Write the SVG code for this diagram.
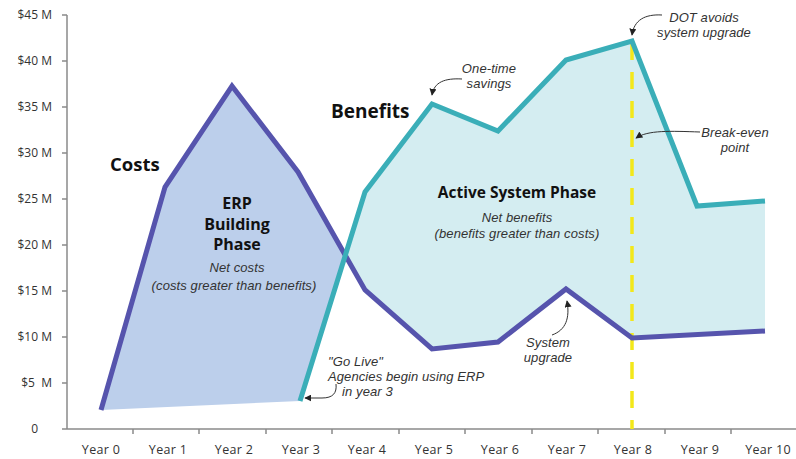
<svg xmlns="http://www.w3.org/2000/svg" width="796" height="459" viewBox="0 0 796 459">
<defs>
<style>
.ax{stroke:#8a8a8a;stroke-width:1.5;fill:none}
.yl{font-family:"Open Sans","Liberation Sans",sans-serif;font-size:12px;fill:#333;text-anchor:end;white-space:pre}
.xl{font-family:"Open Sans","Liberation Sans",sans-serif;font-size:12.5px;fill:#333;text-anchor:middle;letter-spacing:0.3px}
.h{font-family:"Open Sans","Liberation Sans",sans-serif;font-weight:bold;fill:#111}
.it{font-family:"Liberation Sans",Arial,sans-serif;font-style:italic;font-size:13px;fill:#333;letter-spacing:0.1px}
.ann{stroke:#333;stroke-width:1;fill:none;marker-end:url(#ah)}
</style>
<marker id="ah" viewBox="0 0 10 10" refX="9" refY="5" markerWidth="7" markerHeight="7" orient="auto" markerUnits="userSpaceOnUse">
<path d="M0,0 L10,5 L0,10 z" fill="#222"/>
</marker>
</defs>
<rect width="796" height="459" fill="#fff"/>
<g id="axes">
<path class="ax" d="M67,15 V429 M62,429 H796"/>
<path class="ax" d="M62,15H67M62,61H67M62,107H67M62,153H67M62,199H67M62,245H67M62,291H67M62,337H67M62,383H67"/>
<path class="ax" d="M133,429v5M199,429v5M266,429v5M332,429v5M399,429v5M465,429v5M532,429v5M598,429v5M665,429v5M731,429v5"/>
<text class="yl" x="52" y="19">$45 M</text>
<text class="yl" x="52" y="65">$40 M</text>
<text class="yl" x="52" y="111">$35 M</text>
<text class="yl" x="52" y="157">$30 M</text>
<text class="yl" x="52" y="203">$25 M</text>
<text class="yl" x="52" y="249">$20 M</text>
<text class="yl" x="52" y="295">$15 M</text>
<text class="yl" x="52" y="341">$10 M</text>
<text class="yl" x="52" y="387">$5  M</text>
<text class="yl" x="38" y="433">0</text>
<text class="xl" x="101" y="454">Year 0</text>
<text class="xl" x="168" y="454">Year 1</text>
<text class="xl" x="234" y="454">Year 2</text>
<text class="xl" x="301" y="454">Year 3</text>
<text class="xl" x="367" y="454">Year 4</text>
<text class="xl" x="434" y="454">Year 5</text>
<text class="xl" x="500" y="454">Year 6</text>
<text class="xl" x="567" y="454">Year 7</text>
<text class="xl" x="633" y="454">Year 8</text>
<text class="xl" x="700" y="454">Year 9</text>
<text class="xl" x="768" y="454">Year 10</text>
</g>
<g id="building-phase">
<polygon points="101,410 165,187 232,86 298,172 345,256 300,401" fill="#bccfeb"/>
</g>
<g id="active-phase">
<polygon points="345,256 365,192 432,104 498,131 566,60 632,41 697,206 765,201 765,331 632,338 566,289 498,342 432,349 365,290" fill="#d4edf1"/>
</g>
<g id="break-even-line">
<line x1="632" y1="43" x2="632" y2="429" stroke="#f3e81a" stroke-width="3.5" stroke-dasharray="17 12"/>
</g>
<g id="costs-line">
<polyline points="101,410 165,187 232,86 298,172 365,290 432,349 498,342 566,289 632,338 765,331" fill="none" stroke="#5654ad" stroke-width="5" stroke-linejoin="miter"/>
</g>
<g id="benefits-line">
<polyline points="300,401 365,192 432,104 498,131 566,60 632,41 697,206 765,201" fill="none" stroke="#3aaeb8" stroke-width="5" stroke-linejoin="miter"/>
</g>
<g id="labels">
<text class="h" x="110" y="171" font-size="18.5">Costs</text>
<text class="h" x="331" y="118" font-size="19">Benefits</text>
<text class="h" x="237" y="209" font-size="16" text-anchor="middle">ERP</text>
<text class="h" x="237" y="230" font-size="16" text-anchor="middle">Building</text>
<text class="h" x="237" y="250" font-size="16" text-anchor="middle">Phase</text>
<text class="it" x="237" y="272" text-anchor="middle">Net costs</text>
<text class="it" x="234" y="290" text-anchor="middle">(costs greater than benefits)</text>
<text class="h" x="517" y="198" font-size="15.5" text-anchor="middle">Active System Phase</text>
<text class="it" x="517" y="222" text-anchor="middle">Net benefits</text>
<text class="it" x="517" y="238" text-anchor="middle">(benefits greater than costs)</text>
</g>
<g id="annotations">
<text class="it" x="489" y="73" text-anchor="middle">One-time</text>
<text class="it" x="489" y="88" text-anchor="middle">savings</text>
<text class="it" x="704" y="22" text-anchor="middle">DOT avoids</text>
<text class="it" x="704" y="37" text-anchor="middle">system upgrade</text>
<text class="it" x="735" y="137" text-anchor="middle">Break-even</text>
<text class="it" x="735" y="152" text-anchor="middle">point</text>
<text class="it" x="548" y="347" text-anchor="middle">System</text>
<text class="it" x="548" y="362" text-anchor="middle">upgrade</text>
<text class="it" x="328" y="366">"Go Live"</text>
<text class="it" x="328" y="381">Agencies begin using ERP</text>
<text class="it" x="342" y="396">in year 3</text>
</g>
<g id="connectors">
<path class="ann" d="M462,79 C445,78 434,82 432,95"/>
<path class="ann" d="M662,15 C645,14 634,20 632,35"/>
<path class="ann" d="M700,132 C670,131 648,130 636,138"/>
<path class="ann" d="M552,335 C566,330 570,318 567,301"/>
<path class="ann" d="M336,384 C337,393 333,398 322,398 L305,398"/>
</g>
</svg>
